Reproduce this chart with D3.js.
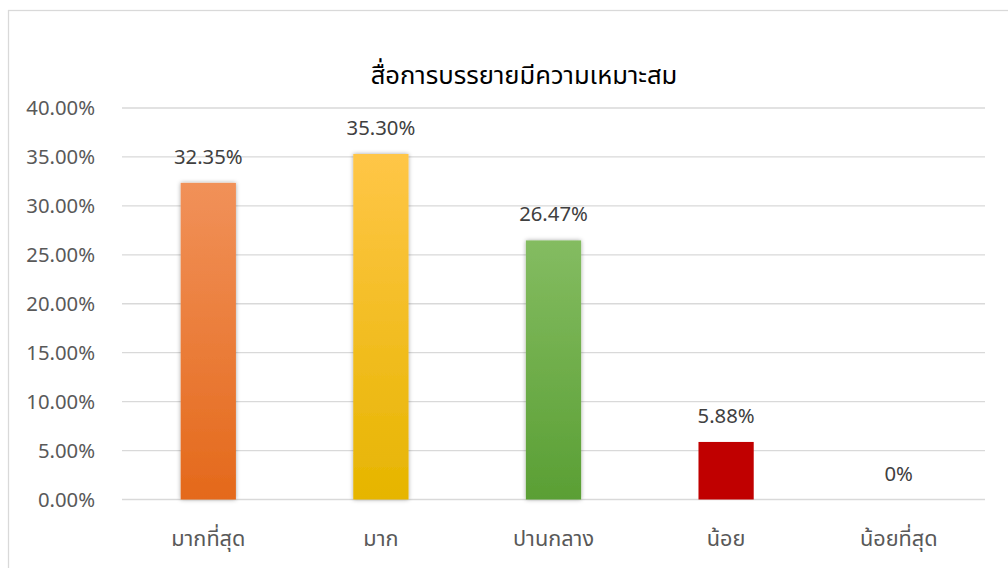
<!DOCTYPE html>
<html>
<head>
<meta charset="utf-8">
<script src="https://cdn.jsdelivr.net/npm/d3@7"></script>
<style>
body { margin: 0; background: #fff; }
text { font-family: "Leelawadee UI", "Noto Sans Thai", "Noto Sans", sans-serif; }
</style>
</head>
<body>
<div id="chart"></div>
<script>
var categories = ["มากที่สุด", "มาก", "ปานกลาง", "น้อย", "น้อยที่สุด"];
var values = [32.35, 35.30, 26.47, 5.88, 0];
var valueLabels = ["32.35%", "35.30%", "26.47%", "5.88%", "0%"];
var yTicks = [0, 5, 10, 15, 20, 25, 30, 35, 40];
var title = "สื่อการบรรยายมีความเหมาะสม";

var gradients = [
  ["#f19159", "#e4691b"],
  ["#ffc647", "#e6b500"],
  ["#84bc61", "#5a9f34"],
  ["#c00000", "#c00000"],
  ["#9e9e9e", "#7f7f7f"]
];

var width = 1008, height = 568;
var plotLeft = 122, plotRight = 985, plotTop = 108, plotBottom = 499.5;

var svg = d3.select("#chart").append("svg")
  .attr("width", width)
  .attr("height", height);

// chart frame
svg.append("rect")
  .attr("x", 8.5).attr("y", 10.5)
  .attr("width", 1020).attr("height", 580)
  .attr("fill", "#fff")
  .attr("stroke", "#d9d9d9")
  .attr("stroke-width", 1.25);

var defs = svg.append("defs");
gradients.forEach(function(g, i) {
  var lg = defs.append("linearGradient")
    .attr("id", "grad" + i)
    .attr("x1", 0).attr("y1", 0).attr("x2", 0).attr("y2", 1);
  lg.append("stop").attr("offset", "0%").attr("stop-color", g[0]);
  lg.append("stop").attr("offset", "100%").attr("stop-color", g[1]);
});
var shadow = defs.append("filter").attr("id", "shadow")
  .attr("x", "-30%").attr("y", "-10%").attr("width", "160%").attr("height", "120%");
shadow.append("feDropShadow")
  .attr("dx", 0).attr("dy", 0).attr("stdDeviation", 2.2)
  .attr("flood-color", "#000").attr("flood-opacity", 0.35);

var x = d3.scaleBand()
  .domain(categories)
  .range([plotLeft, plotRight])
  .paddingInner(0.68)
  .paddingOuter(0.34);

var y = d3.scaleLinear()
  .domain([0, 40])
  .range([plotBottom, plotTop]);

// gridlines
svg.append("g")
  .selectAll("line")
  .data(yTicks)
  .enter().append("line")
  .attr("x1", plotLeft).attr("x2", plotRight)
  .attr("y1", function(d) { return y(d); })
  .attr("y2", function(d) { return y(d); })
  .attr("stroke", "#d9d9d9")
  .attr("stroke-width", 1.3);

// y axis labels
var yAxis = d3.axisLeft(y)
  .tickValues(yTicks)
  .tickSize(0)
  .tickPadding(0)
  .tickFormat(function(d) { return d3.format(".2f")(d) + "%"; });
var ya = svg.append("g")
  .attr("transform", "translate(95,0)")
  .call(yAxis);
ya.select(".domain").remove();
ya.selectAll("text")
  .attr("fill", "#595959")
  .style("font-size", "20.3px");

// bars
svg.append("g")
  .selectAll("rect")
  .data(values)
  .enter().append("rect")
  .attr("x", function(d, i) { return x(categories[i]); })
  .attr("y", function(d) { return y(d); })
  .attr("width", x.bandwidth())
  .attr("height", function(d) { return plotBottom - y(d); })
  .attr("fill", function(d, i) { return "url(#grad" + i + ")"; })
  .attr("filter", function(d, i) { return i < 3 ? "url(#shadow)" : null; });

// value labels
svg.append("g")
  .selectAll("text")
  .data(values)
  .enter().append("text")
  .attr("x", function(d, i) { return x(categories[i]) + x.bandwidth() / 2; })
  .attr("y", function(d) { return y(d) - 19; })
  .attr("text-anchor", "middle")
  .attr("fill", "#404040")
  .style("font-size", "20.3px")
  .text(function(d, i) { return valueLabels[i]; });

// x axis labels
var xAxis = d3.axisBottom(x).tickSize(0).tickPadding(0);
var xa = svg.append("g")
  .attr("transform", "translate(0," + plotBottom + ")")
  .call(xAxis);
xa.select(".domain").remove();
xa.selectAll("text")
  .attr("dy", null)
  .attr("y", 46)
  .attr("fill", "#595959")
  .style("font-size", "21.7px");

// title
svg.append("text")
  .attr("x", 524)
  .attr("y", 84)
  .attr("text-anchor", "middle")
  .attr("fill", "#000")
  .style("font-size", "25.6px")
  .text(title);
</script>
</body>
</html>
